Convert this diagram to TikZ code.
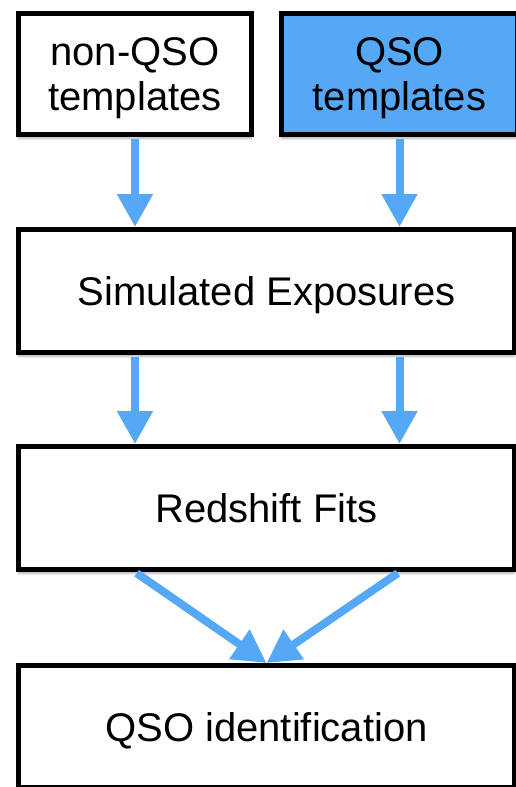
\documentclass[tikz,border=0pt]{standalone}
\usepackage{fontspec}
\setmainfont{Liberation Sans}
\usetikzlibrary{arrows.meta,shadows.blur}
\definecolor{flowblue}{RGB}{84,168,246}
\tikzset{
  stage/.style={draw=black, line width=5pt, fill=white, inner sep=0pt,
    minimum width=496pt, minimum height=123pt, align=center, text depth=0pt,
    font=\fontsize{40}{45}\selectfont,
    blur shadow={shadow xshift=0pt, shadow yshift=-4pt, shadow blur steps=6, shadow opacity=30}},
  flow/.style={draw=flowblue, line width=8pt, shorten <=2pt,
    -{Triangle[width=34pt,length=33pt]}}
}
\begin{document}
\begin{tikzpicture}[x=1pt,y=-1pt]
% Draw the template boxes
\node [stage, minimum width=233pt, minimum height=121pt] (nonqso) at (135,74) {non-QSO\\templates};
\node [stage, fill=flowblue, minimum width=236pt, minimum height=121pt] (qso) at (399.5,74) {QSO\\templates};
% Draw the pipeline boxes
\node [stage] (simexp) at (266.5,291) {Simulated Exposures};
\node [stage] (zfit) at (266.5,508) {Redshift Fits};
\node [stage, minimum height=122pt] (qsoid) at (266.5,726.5) {QSO identification};
% Draw the arrows
\draw [flow] (nonqso.south) -- (nonqso.south |- simexp.north);
\draw [flow] (qso.south) -- (qso.south |- simexp.north);
\draw [flow] (simexp.south -| nonqso.south) -- (zfit.north -| nonqso.south);
\draw [flow] (simexp.south -| qso.south) -- (zfit.north -| qso.south);
\draw [flow] (zfit.south -| nonqso.south) -- (qsoid.north);
\draw [flow] (zfit.south -| qso.south) -- (qsoid.north);
% Fix the page size
\pgfresetboundingbox
\useasboundingbox (0,0) rectangle (515,787);
\end{tikzpicture}
\end{document}
